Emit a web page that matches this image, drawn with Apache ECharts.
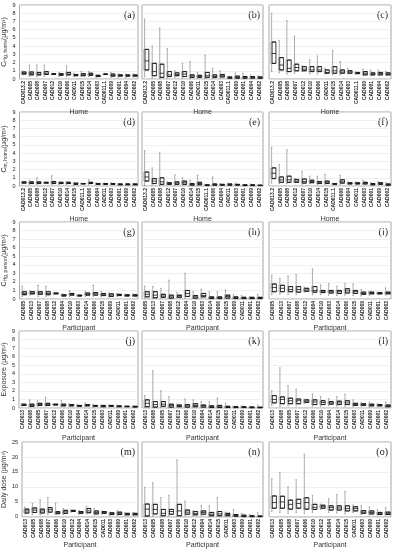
<!DOCTYPE html>
<html><head><meta charset="utf-8">
<script src="https://cdn.jsdelivr.net/npm/echarts@6/dist/echarts.min.js"></script>
<style>html,body{margin:0;padding:0;background:#fff}#c{width:394px;height:550px}</style>
</head><body><div id="c"></div>
<script>
// Categories (x-axis tick labels)
const catsRow1 = ['CAD013.2','CAD005','CAD008','CAD007','CAD012','CAD010','CAD006','CAD011','CAD015','CAD014','CAD003','CAD011.1','CAD009','CAD001','CAD004','CAD002'];
const catsRow2 = ['CAD013.2','CAD005','CAD008','CAD012','CAD007','CAD010','CAD014','CAD015','CAD011.1','CAD006','CAD004','CAD011','CAD003','CAD001','CAD009','CAD002'];
const catsRow3 = ['CAD005','CAD013','CAD007','CAD008','CAD012','CAD004','CAD010','CAD003','CAD014','CAD006','CAD015','CAD009','CAD011','CAD001','CAD002'];
const catsRow4 = ['CAD013','CAD008','CAD005','CAD007','CAD012','CAD006','CAD010','CAD004','CAD014','CAD015','CAD003','CAD011','CAD009','CAD001','CAD002'];
const catsRow5 = ['CAD013','CAD005','CAD008','CAD007','CAD006','CAD010','CAD012','CAD004','CAD014','CAD015','CAD011','CAD003','CAD009','CAD001','CAD002'];

// Y tick ranges
const yTicksRows1to4 = [0,1,2,3,4,5,6,7,8,9];
const yTicksRow5 = [0,5,10,15,20,25];

// Box values: [min, Q1, median, Q3, max]
const a = [[0.5,0.6,0.7,0.85,0.95],[0.3,0.5,0.65,0.85,1.7],[0.3,0.5,0.6,0.8,1.7],[0.3,0.55,0.7,0.9,1.7],[0.5,0.55,0.6,0.65,0.7],[0.3,0.45,0.55,0.65,0.8],[0.3,0.5,0.6,0.8,1.6],[0.3,0.4,0.5,0.55,0.7],[0.3,0.4,0.5,0.65,0.9],[0.3,0.45,0.55,0.7,0.9],[0.2,0.3,0.4,0.45,0.5],[0.5,0.55,0.6,0.6,0.65],[0.2,0.35,0.45,0.6,0.8],[0.2,0.35,0.45,0.5,0.65],[0.2,0.35,0.4,0.5,0.6],[0.25,0.35,0.4,0.5,0.6]];
const b = [[0.3,1.1,2.2,3.6,7.3],[0.1,0.4,0.9,1.9,4.0],[0.05,0.2,0.7,1.8,6.2],[0.1,0.3,0.5,0.9,3.7],[0.2,0.4,0.55,0.75,1.0],[0.1,0.3,0.6,0.9,1.9],[0.05,0.2,0.35,0.5,2.1],[0.1,0.2,0.3,0.45,0.8],[0.05,0.2,0.4,0.8,2.9],[0.05,0.2,0.3,0.5,1.3],[0.1,0.25,0.4,0.55,1.0],[0.05,0.1,0.15,0.25,0.3],[0.05,0.1,0.2,0.35,0.75],[0.05,0.1,0.2,0.3,0.7],[0.05,0.1,0.2,0.3,0.5],[0.05,0.1,0.15,0.25,0.4]];
const c = [[0.9,1.9,3.1,4.5,8.0],[0.75,1.1,1.7,2.6,4.7],[0.6,0.9,1.3,2.3,7.1],[0.7,1.0,1.4,1.8,5.2],[0.9,1.0,1.2,1.5,1.6],[0.6,0.9,1.1,1.5,2.3],[0.6,0.9,1.1,1.5,2.8],[0.6,0.7,0.8,1.1,1.3],[0.5,0.7,1.0,1.5,3.5],[0.5,0.7,0.85,1.1,2.1],[0.6,0.7,0.85,1.0,1.3],[0.6,0.65,0.7,0.8,0.85],[0.4,0.5,0.7,0.9,1.2],[0.4,0.5,0.6,0.75,1.1],[0.4,0.5,0.65,0.8,1.1],[0.4,0.5,0.6,0.75,0.9]];
const d = [[0.25,0.35,0.4,0.5,0.55],[0.2,0.3,0.4,0.5,0.7],[0.2,0.3,0.4,0.5,1.0],[0.3,0.35,0.4,0.45,0.5],[0.2,0.3,0.4,0.55,1.25],[0.2,0.3,0.35,0.45,0.5],[0.2,0.3,0.35,0.45,0.55],[0.1,0.2,0.25,0.35,0.45],[0.2,0.25,0.3,0.3,0.35],[0.2,0.3,0.35,0.45,0.75],[0.15,0.2,0.25,0.3,0.4],[0.15,0.2,0.25,0.3,0.35],[0.15,0.2,0.25,0.3,0.4],[0.1,0.15,0.2,0.25,0.3],[0.1,0.15,0.2,0.25,0.35],[0.1,0.15,0.2,0.25,0.3]];
const e = [[0.05,0.6,1.1,1.7,4.3],[0.1,0.3,0.6,0.9,2.2],[0.05,0.2,0.5,1.0,4.1],[0.15,0.2,0.3,0.4,0.5],[0.1,0.2,0.35,0.5,1.35],[0.1,0.2,0.4,0.6,1.0],[0.05,0.1,0.2,0.3,0.7],[0.05,0.15,0.3,0.45,1.3],[0.03,0.05,0.1,0.15,0.2],[0.05,0.1,0.15,0.25,1.1],[0.05,0.1,0.15,0.2,0.3],[0.05,0.1,0.15,0.25,0.35],[0.05,0.1,0.15,0.2,0.35],[0.03,0.05,0.1,0.15,0.2],[0.03,0.05,0.1,0.15,0.25],[0.03,0.05,0.08,0.1,0.15]];
const f = [[0.35,0.9,1.55,2.2,4.7],[0.3,0.45,0.75,1.1,2.6],[0.3,0.45,0.75,1.2,4.4],[0.4,0.45,0.6,0.8,0.9],[0.2,0.35,0.55,0.85,1.8],[0.3,0.4,0.55,0.7,1.2],[0.2,0.3,0.4,0.55,1.2],[0.2,0.3,0.45,0.6,1.4],[0.15,0.2,0.25,0.3,0.35],[0.2,0.35,0.5,0.75,1.3],[0.2,0.25,0.3,0.4,0.5],[0.2,0.25,0.3,0.4,0.5],[0.2,0.25,0.35,0.45,0.7],[0.1,0.15,0.2,0.3,0.4],[0.15,0.2,0.3,0.4,0.55],[0.05,0.1,0.15,0.25,0.4]];
const g = [[0.3,0.5,0.65,0.85,1.5],[0.45,0.6,0.7,0.85,1.0],[0.3,0.55,0.7,0.85,1.6],[0.3,0.5,0.65,0.85,1.5],[0.55,0.6,0.65,0.7,0.75],[0.3,0.35,0.45,0.5,0.6],[0.3,0.45,0.55,0.65,1.0],[0.3,0.35,0.4,0.45,0.5],[0.3,0.45,0.55,0.7,0.85],[0.3,0.45,0.6,0.75,1.6],[0.25,0.4,0.5,0.65,0.9],[0.2,0.3,0.45,0.6,0.75],[0.3,0.4,0.5,0.55,0.65],[0.3,0.35,0.4,0.5,0.55],[0.3,0.35,0.4,0.5,0.6]];
const h = [[0.1,0.25,0.55,0.85,1.5],[0.05,0.15,0.45,0.85,1.45],[0.1,0.2,0.35,0.55,1.25],[0.05,0.1,0.25,0.45,2.2],[0.15,0.2,0.35,0.45,0.75],[0.1,0.3,0.65,1.0,3.0],[0.05,0.1,0.25,0.4,0.85],[0.1,0.25,0.4,0.65,1.15],[0.02,0.05,0.15,0.25,0.85],[0.02,0.05,0.15,0.25,0.85],[0.05,0.1,0.3,0.45,1.05],[0.02,0.05,0.15,0.25,0.5],[0.02,0.05,0.1,0.2,0.4],[0.02,0.05,0.1,0.2,0.25],[0.02,0.05,0.1,0.2,0.55]];
const i_ = [[0.5,0.85,1.35,1.75,2.8],[0.55,0.85,1.25,1.6,2.4],[0.5,0.85,1.1,1.45,2.7],[0.5,0.8,1.1,1.45,2.85],[0.8,0.9,1.05,1.25,1.4],[0.5,0.8,1.0,1.45,3.5],[0.5,0.75,0.9,1.0,1.65],[0.45,0.7,0.85,1.0,1.8],[0.4,0.65,0.85,1.0,1.5],[0.45,0.7,0.95,1.2,1.8],[0.4,0.65,0.85,1.0,1.75],[0.35,0.55,0.65,0.8,1.1],[0.45,0.6,0.7,0.8,0.9],[0.5,0.6,0.65,0.75,0.8],[0.45,0.6,0.7,0.8,1.3]];
const j = [[0.2,0.3,0.35,0.45,0.5],[0.1,0.2,0.3,0.45,0.95],[0.2,0.3,0.4,0.55,0.85],[0.2,0.3,0.4,0.55,1.25],[0.3,0.35,0.4,0.45,0.5],[0.15,0.25,0.35,0.45,0.85],[0.2,0.25,0.3,0.4,0.5],[0.15,0.2,0.25,0.3,0.4],[0.15,0.25,0.3,0.4,0.6],[0.1,0.2,0.25,0.3,0.4],[0.1,0.15,0.2,0.3,0.35],[0.15,0.2,0.25,0.3,0.35],[0.1,0.15,0.2,0.25,0.35],[0.1,0.15,0.2,0.2,0.25],[0.1,0.12,0.15,0.2,0.25]];
const k = [[0.05,0.15,0.55,0.95,1.45],[0.03,0.1,0.4,0.75,4.35],[0.05,0.2,0.45,0.75,2.0],[0.03,0.1,0.3,0.45,1.35],[0.1,0.15,0.25,0.35,0.45],[0.03,0.1,0.25,0.4,1.05],[0.05,0.15,0.3,0.5,0.95],[0.03,0.1,0.25,0.35,0.75],[0.02,0.05,0.15,0.25,0.75],[0.02,0.05,0.2,0.3,1.15],[0.02,0.05,0.1,0.2,0.55],[0.02,0.05,0.1,0.15,0.2],[0.02,0.05,0.1,0.15,0.25],[0.01,0.03,0.08,0.12,0.2],[0.01,0.03,0.06,0.1,0.35]];
const l = [[0.3,0.6,1.0,1.45,2.0],[0.2,0.5,1.0,1.3,4.7],[0.25,0.5,0.85,1.15,2.6],[0.25,0.5,0.85,1.05,2.2],[0.55,0.65,0.8,0.95,1.05],[0.2,0.4,0.7,0.95,1.65],[0.2,0.4,0.65,0.85,1.35],[0.3,0.45,0.6,0.75,1.1],[0.2,0.4,0.6,0.8,1.35],[0.2,0.4,0.6,0.85,1.6],[0.15,0.3,0.4,0.55,0.95],[0.2,0.3,0.4,0.5,0.65],[0.1,0.25,0.35,0.45,0.7],[0.15,0.25,0.3,0.4,0.5],[0.05,0.15,0.25,0.35,0.7]];
const m = [[1.0,1.3,2.0,2.6,3.2],[0.8,1.5,2.3,3.0,4.6],[0.8,1.3,2.0,2.6,5.7],[0.8,1.6,2.4,3.1,6.5],[0.8,1.1,1.4,1.75,4.6],[0.8,1.2,1.7,2.2,2.8],[1.6,1.8,2.0,2.2,2.3],[0.9,1.2,1.5,1.8,2.2],[1.0,1.4,2.0,2.8,3.6],[0.6,1.0,1.5,2.0,2.8],[0.9,1.2,1.5,1.8,2.0],[0.5,0.8,1.1,1.4,1.6],[0.5,0.8,1.2,1.6,2.2],[0.5,0.7,0.9,1.2,1.4],[0.5,0.7,0.9,1.2,1.5]];
const n = [[0.1,0.3,2.6,4.3,9.8],[0.3,1.0,2.5,4.2,11.4],[0.1,0.4,1.2,2.5,6.4],[0.3,0.9,1.8,2.5,7.2],[0.1,0.4,2.0,4.2,19.0],[0.3,0.9,1.6,2.3,5.3],[0.4,0.7,1.2,1.8,2.0],[0.4,0.9,1.5,2.0,3.9],[0.1,0.4,0.9,1.5,3.7],[0.1,0.4,1.0,1.8,6.4],[0.2,0.4,0.8,1.2,1.6],[0.1,0.2,0.5,0.8,2.4],[0.05,0.1,0.3,0.6,1.2],[0.05,0.1,0.2,0.4,0.8],[0.05,0.1,0.2,0.3,1.4]];
const o = [[1.8,2.9,4.8,7.0,12.7],[1.5,2.9,5.0,6.9,14.9],[1.2,2.6,4.2,5.6,10.0],[1.5,2.9,4.5,5.9,12.4],[1.2,2.6,4.8,6.4,20.9],[1.5,2.5,3.2,4.2,7.2],[2.5,2.9,3.4,3.9,4.3],[1.5,2.3,3.1,3.7,6.1],[1.3,2.3,3.0,3.7,7.5],[1.0,2.0,2.8,3.7,8.5],[1.5,2.0,2.8,3.4,4.0],[0.8,1.2,1.6,2.1,3.7],[0.6,1.0,1.5,2.0,3.3],[0.6,0.8,1.1,1.5,2.4],[0.6,0.8,1.1,1.6,3.2]];

const panelLabels = ['(a)','(b)','(c)','(d)','(e)','(f)','(g)','(h)','(i)','(j)','(k)','(l)','(m)','(n)','(o)'];
const rowData = [[a,b,c],[d,e,f],[g,h,i_],[j,k,l],[m,n,o]];
const rowCats = [catsRow1,catsRow2,catsRow3,catsRow4,catsRow5];
const rowXNames = ['Home','Home','Participant','Participant','Participant'];
const rowYNames = [
  '{m|C}{s|Hg, home}{m|(μg/m³)}',
  '{m|C}{s|in, home}{m|(μg/m³)}',
  '{m|C}{s|Hg, person}{m|(μg/m³)}',
  '{m|Exposure (μg/m³)}',
  '{m|Daily dose (μg/m³)}'
];
const rowYTicks = [yTicksRows1to4,yTicksRows1to4,yTicksRows1to4,yTicksRows1to4,yTicksRow5];

// layout
const colLeft = [19, 142, 269];
const colWidth = [119, 121, 122];
const rowTop = [5, 112, 222, 331, 442];
const rowHeight = [74, 74, 77, 77, 76];
const xNameGap = [27, 27, 25, 27, 25];

const grids = [], xAxes = [], yAxes = [], series = [], graphics = [];
let idx = 0;
for (let r = 0; r < 5; r++) {
  for (let cI = 0; cI < 3; cI++) {
    const data = rowData[r][cI];
    const ticks = rowYTicks[r];
    grids.push({left: colLeft[cI], top: rowTop[r], width: colWidth[cI], height: rowHeight[r],
      show: true, borderColor: '#a8a8a8', borderWidth: 1, backgroundColor: '#fff', containLabel: false});
    xAxes.push({type: 'category', gridIndex: idx, data: rowCats[r],
      axisLine: {show: false}, axisTick: {show: false},
      axisLabel: {rotate: 90, interval: 0, fontSize: 5, fontWeight: 'bold', color: '#222', margin: 2, fontFamily: 'Liberation Sans'},
      name: rowXNames[r], nameLocation: 'middle', nameGap: xNameGap[r],
      nameTextStyle: {fontSize: 7, color: '#333', fontFamily: 'Liberation Sans'}});
    yAxes.push({type: 'value', gridIndex: idx, min: ticks[0], max: ticks[ticks.length-1], interval: ticks[1]-ticks[0],
      axisLine: {show: false}, axisTick: {show: false},
      splitLine: {show: true, lineStyle: {color: '#e6e6e6', width: 0.6}},
      axisLabel: {show: cI === 0, fontSize: 5.5, color: '#222', margin: 4, fontFamily: 'Liberation Sans'},
      name: cI === 0 ? rowYNames[r] : '', nameLocation: 'middle', nameGap: r === 4 ? 14 : 11, nameRotate: 90,
      nameTextStyle: {rich: {m: {fontSize: 7, color: '#333', fontFamily: 'Liberation Sans'}, s: {fontSize: 5, color: '#333', fontFamily: 'Liberation Sans', verticalAlign: 'bottom', padding: [3,0,0,0]}}}});
    // whiskers (grey, narrow caps)
    series.push({type: 'boxplot', xAxisIndex: idx, yAxisIndex: idx, data: data,
      boxWidth: [1.5, 1.5], silent: true,
      itemStyle: {color: '#fff', borderColor: '#8a8a8a', borderWidth: 0.7}});
    // box (black) built from the same values: whisker collapsed onto box
    series.push({type: 'boxplot', xAxisIndex: idx, yAxisIndex: idx,
      data: data.map(v => [v[1], v[1], v[2], v[3], v[3]]),
      boxWidth: ['50%', '50%'], silent: true,
      itemStyle: {color: '#fff', borderColor: '#111', borderWidth: 0.8}});
    graphics.push({type: 'text', right: 394 - (colLeft[cI] + colWidth[cI]) + 3, top: rowTop[r] + 5,
      style: {text: panelLabels[idx], fontSize: 10, fontFamily: 'Liberation Serif', fill: '#222'}});
    idx++;
  }
}

const chart = echarts.init(document.getElementById('c'), null, {renderer: 'canvas'});
chart.setOption({animation: false, backgroundColor: '#fff', grid: grids, xAxis: xAxes, yAxis: yAxes, series: series, graphic: graphics});
</script></body></html>
